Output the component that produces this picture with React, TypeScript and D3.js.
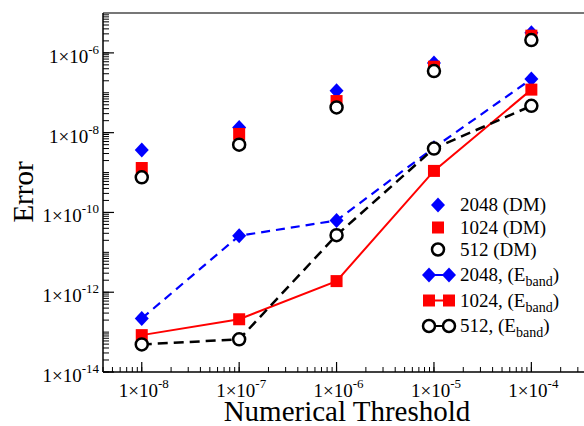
import React, { useEffect, useRef } from "react";
import * as d3 from "d3";

// numerical thresholds (x) and errors (y)
const thresholds = [1e-8, 1e-7, 1e-6, 1e-5, 1e-4];
const dm2048 = [3.7e-9, 1.35e-8, 1.12e-7, 5.6e-7, 3.2e-6];
const dm1024 = [1.3e-9, 9.3e-9, 6.2e-8, 4.5e-7, 2.7e-6];
const dm512 = [7.6e-10, 5.0e-9, 4.3e-8, 3.5e-7, 2.1e-6];
const eb2048 = [2.2e-13, 2.6e-11, 6.3e-11, 4.2e-9, 2.2e-7];
const eb1024 = [8.4e-14, 2.1e-13, 1.9e-12, 1.1e-9, 1.2e-7];
const eb512 = [4.9e-14, 6.6e-14, 2.7e-11, 4.0e-9, 4.7e-8];

const xTickExp = [-8, -7, -6, -5, -4];
const yTickExp = [-14, -12, -10, -8, -6];
const legendLabels = ["2048 (DM)", "1024 (DM)", "512 (DM)", "2048, (E", "1024, (E", "512, (E"];

const FONT = "Liberation Serif, Tinos, Times New Roman, DejaVu Serif, serif";

const App = () => {
    const svgRef = useRef<SVGSVGElement>(null);

    useEffect(() => {
        const svg = d3.select(svgRef.current);
        svg.selectAll("*").remove();

        const width = 584;
        const height = 426;
        const plot = { left: 103, right: 590, top: 13, bottom: 372 };

        const x = d3.scaleLog().domain([4e-9, 4e-4]).range([plot.left, plot.right]);
        const y = d3.scaleLog().domain([1e-14, 1e-5]).range([plot.bottom, plot.top]);

        svg.attr("width", width).attr("height", height).style("font-family", FONT);

        // minor ticks
        const minorX: number[] = [];
        for (let e = -9; e <= -4; e++) for (let m = 1; m <= 9; m++) {
            const v = m * Math.pow(10, e);
            if (v >= 4e-9 && v <= 4e-4) minorX.push(v);
        }
        const minorY: number[] = [];
        for (let e = -14; e <= -6; e++) for (let m = 1; m <= 9; m++) {
            const v = m * Math.pow(10, e);
            if (v <= 1e-5) minorY.push(v);
        }

        const axes = svg.append("g");
        // top border
        axes.append("line")
            .attr("x1", plot.left).attr("x2", plot.right)
            .attr("y1", plot.top).attr("y2", plot.top)
            .attr("stroke", "#777").attr("stroke-width", 2);

        axes.selectAll(".mx").data(minorX).enter().append("line")
            .attr("x1", (d) => x(d)).attr("x2", (d) => x(d))
            .attr("y1", plot.bottom).attr("y2", plot.bottom - 5)
            .attr("stroke", "#000").attr("stroke-width", 1);
        axes.selectAll(".Mx").data(xTickExp).enter().append("line")
            .attr("x1", (d) => x(Math.pow(10, d))).attr("x2", (d) => x(Math.pow(10, d)))
            .attr("y1", plot.bottom).attr("y2", plot.bottom - 10)
            .attr("stroke", "#000").attr("stroke-width", 1.2);

        axes.selectAll(".my").data(minorY).enter().append("line")
            .attr("x1", plot.left).attr("x2", plot.left + 6)
            .attr("y1", (d) => y(d)).attr("y2", (d) => y(d))
            .attr("stroke", "#000").attr("stroke-width", 1);
        axes.selectAll(".My").data(yTickExp).enter().append("line")
            .attr("x1", plot.left).attr("x2", plot.left + 11)
            .attr("y1", (d) => y(Math.pow(10, d))).attr("y2", (d) => y(Math.pow(10, d)))
            .attr("stroke", "#000").attr("stroke-width", 1.2);

        axes.append("line")
            .attr("x1", plot.left).attr("x2", plot.left)
            .attr("y1", plot.top).attr("y2", plot.bottom)
            .attr("stroke", "#000").attr("stroke-width", 1.5);
        axes.append("line")
            .attr("x1", plot.left).attr("x2", plot.right)
            .attr("y1", plot.bottom).attr("y2", plot.bottom)
            .attr("stroke", "#000").attr("stroke-width", 1.5);

        // tick labels
        const xl = svg.selectAll(".xl").data(xTickExp).enter().append("text")
            .attr("x", (d) => x(Math.pow(10, d)) + 2)
            .attr("y", 397)
            .attr("text-anchor", "middle")
            .attr("font-size", 19);
        xl.append("tspan").text("1×10");
        xl.append("tspan").attr("dy", -9).attr("font-size", 13).text((d) => `${d}`);

        const yl = svg.selectAll(".yl").data(yTickExp).enter().append("text")
            .attr("x", 99)
            .attr("y", (d) => y(Math.pow(10, d)) + 10)
            .attr("text-anchor", "end")
            .attr("font-size", 19);
        yl.append("tspan").text("1×10");
        yl.append("tspan").attr("dy", -9).attr("font-size", 13).text((d) => `${d}`);

        // axis titles
        svg.append("text")
            .attr("x", 347).attr("y", 421)
            .attr("text-anchor", "middle")
            .attr("font-size", 29)
            .text("Numerical Threshold");
        svg.append("text")
            .attr("transform", "translate(33,192) rotate(-90)")
            .attr("text-anchor", "middle")
            .attr("font-size", 29)
            .text("Error");

        // marker helpers
        const diamond = (g, cx, cy) => g.append("path")
            .attr("d", `M${cx},${cy - 7.5}L${cx + 7},${cy}L${cx},${cy + 7.5}L${cx - 7},${cy}Z`)
            .attr("fill", "#0000ff");
        const square = (g, cx, cy) => g.append("rect")
            .attr("x", cx - 6).attr("y", cy - 6).attr("width", 12).attr("height", 12)
            .attr("fill", "#ff0000");
        const circle = (g, cx, cy) => g.append("circle")
            .attr("cx", cx).attr("cy", cy).attr("r", 6)
            .attr("fill", "#fff").attr("stroke", "#000").attr("stroke-width", 2.5);

        const marks = svg.append("g");
        const dmSeries = [
            { values: dm2048, draw: diamond },
            { values: dm1024, draw: square },
            { values: dm512, draw: circle },
        ];
        dmSeries.forEach((s) => {
            s.values.forEach((v, i) => s.draw(marks, x(thresholds[i]), y(v)));
        });

        const line = d3.line<number>()
            .x((_, i) => x(thresholds[i]))
            .y((d) => y(d));

        const ebSeries = [
            { values: eb2048, draw: diamond, color: "#0000ff", dash: "9,6", w: 2.2 },
            { values: eb1024, draw: square, color: "#ff0000", dash: null, w: 2 },
            { values: eb512, draw: circle, color: "#000", dash: "10,6", w: 2.5 },
        ];
        ebSeries.forEach((s) => {
            marks.append("path")
                .attr("d", line(s.values))
                .attr("fill", "none")
                .attr("stroke", s.color)
                .attr("stroke-width", s.w)
                .attr("stroke-dasharray", s.dash);
            s.values.forEach((v, i) => s.draw(marks, x(thresholds[i]), y(v)));
        });

        // legend
        const legend = svg.append("g");
        const rowY = [205, 227.5, 249.5, 275, 300.5, 326];
        const drawers = [diamond, square, circle, diamond, square, circle];
        const colors = ["#0000ff", "#ff0000", "#000", "#0000ff", "#ff0000", "#000"];
        legendLabels.forEach((label, i) => {
            const cy = rowY[i];
            if (i < 3) {
                drawers[i](legend, 438, cy);
            } else {
                legend.append("line")
                    .attr("x1", 429).attr("x2", 449).attr("y1", cy).attr("y2", cy)
                    .attr("stroke", colors[i]).attr("stroke-width", 2);
                drawers[i](legend, 429, cy);
                drawers[i](legend, 449, cy);
            }
            const t = legend.append("text")
                .attr("x", 460).attr("y", cy + 6)
                .attr("font-size", 19);
            t.append("tspan").text(label);
            if (i >= 3) {
                t.append("tspan").attr("dy", 5).attr("font-size", 14).text("band");
                t.append("tspan").attr("dy", -5).text(")");
            }
        });
    }, []);

    return (
        <div>
            <svg ref={svgRef} style={{ position: "absolute", left: 0, top: 0 }}></svg>
        </div>
    );
};

export default App;
